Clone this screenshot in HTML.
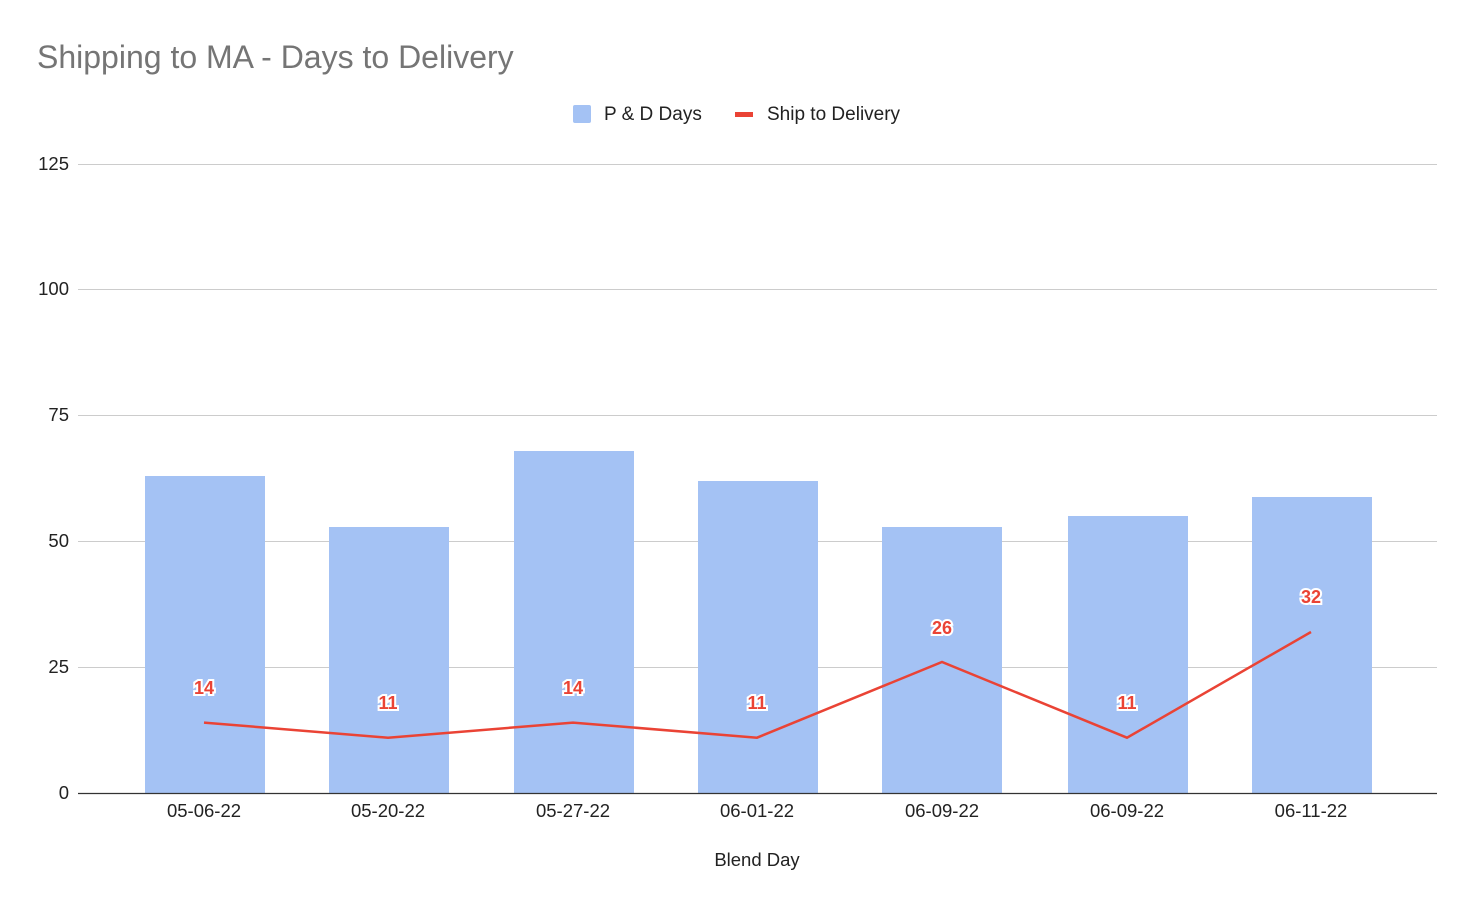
<!DOCTYPE html>
<html><head><style>
body{margin:0;background:#fff;}
svg{display:block;font-family:"Liberation Sans",Arial,sans-serif;}
</style></head><body>
<svg width="1470" height="908" viewBox="0 0 1470 908">
<rect width="1470" height="908" fill="#fff"/>
<text x="37" y="68" font-size="32" fill="#757575">Shipping to MA - Days to Delivery</text>
<rect x="573" y="105" width="18" height="18" rx="2" fill="#a4c2f4"/>
<text x="604" y="120" font-size="19" fill="#222">P &amp; D Days</text>
<rect x="735" y="112" width="18" height="5" fill="#ea4335"/>
<text x="767" y="120" font-size="19" fill="#222">Ship to Delivery</text>
<g stroke="#ccc" stroke-width="1">
<line x1="78" x2="1437" y1="164.5" y2="164.5"/>
<line x1="78" x2="1437" y1="289.5" y2="289.5"/>
<line x1="78" x2="1437" y1="415.5" y2="415.5"/>
<line x1="78" x2="1437" y1="541.5" y2="541.5"/>
<line x1="78" x2="1437" y1="667.5" y2="667.5"/>
</g>
<g font-size="18.5" fill="#222" text-anchor="end">
<text x="69" y="170">125</text><text x="69" y="295">100</text><text x="69" y="421">75</text>
<text x="69" y="547">50</text><text x="69" y="673">25</text><text x="69" y="799">0</text>
</g>
<g fill="#a4c2f4">
<rect x="145" y="476" width="120" height="317"/>
<rect x="329" y="527" width="120" height="266"/>
<rect x="514" y="451" width="120" height="342"/>
<rect x="698" y="481" width="120" height="312"/>
<rect x="882" y="527" width="120" height="266"/>
<rect x="1068" y="516" width="120" height="277"/>
<rect x="1252" y="497" width="120" height="296"/>
</g>
<line x1="78" x2="1437" y1="793.5" y2="793.5" stroke="#333" stroke-width="1.3"/>
<polyline fill="none" stroke="#ea4335" stroke-width="2.5" points="204,722.6 388,737.7 573,722.6 757,737.7 942,662 1127,737.7 1311,632"/>
<g font-size="18" font-weight="bold" fill="#ea4335" text-anchor="middle" stroke="#fff" stroke-width="4" paint-order="stroke">
<text x="204" y="694">14</text><text x="388" y="709">11</text><text x="573" y="694">14</text>
<text x="757" y="709">11</text><text x="942" y="634">26</text><text x="1127" y="709">11</text><text x="1311" y="603">32</text>
</g>
<g font-size="18.5" fill="#222" text-anchor="middle">
<text x="204" y="817">05-06-22</text><text x="388" y="817">05-20-22</text><text x="573" y="817">05-27-22</text>
<text x="757" y="817">06-01-22</text><text x="942" y="817">06-09-22</text><text x="1127" y="817">06-09-22</text><text x="1311" y="817">06-11-22</text>
<text x="757" y="866">Blend Day</text>
</g>
</svg>
</body></html>
